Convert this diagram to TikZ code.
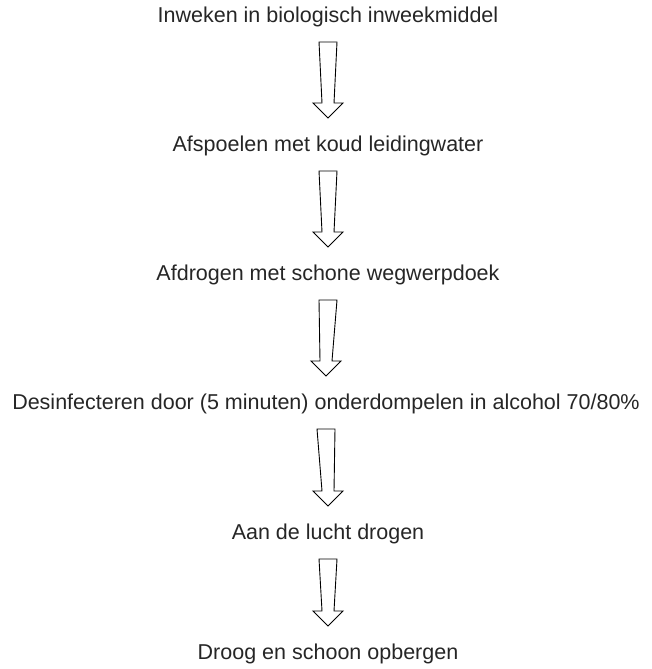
\documentclass[tikz,border=0pt]{standalone}
\usepackage{fontspec}
\setmainfont{Liberation Sans}
\usetikzlibrary{positioning,calc}
\tikzset{x=1pt}
\tikzset{y=-1pt}
\tikzstyle{stap}=[inner sep=2pt,text=black!85,font=\fontsize{21.5}{24}\selectfont]
\tikzstyle{pijl}=[draw=black,line width=.9pt,line join=miter,fill=white]
\newcommand{\holpijl}[2]{
  \draw[pijl] ($(#1)+(-9,25)$) -- ($(#1)+(9,25)$) -- ($(#2)+(6,-43)$)
    -- ($(#2)+(15,-43)$) -- ($(#2)+(0,-28)$) -- ($(#2)+(-15,-43)$)
    -- ($(#2)+(-6,-43)$) -- cycle;
}

\begin{document}
\begin{tikzpicture}
  \useasboundingbox (0,0) rectangle (652,669);
  \draw (328,17) node[stap] (S1) {Inweken in biologisch inweekmiddel};
  \draw (328,146) node[stap] (S2) {Afspoelen met koud leidingwater};
  \draw (328,275) node[stap] (S3) {Afdrogen met schone wegwerpdoek};
  \draw (326,404) node[stap] (S4) {Desinfecteren door (5 minuten) onderdompelen in alcohol 70/80\%};
  \draw (328,534) node[stap] (S5) {Aan de lucht drogen};
  \draw (328,654) node[stap] (S6) {Droog en schoon opbergen};

  \holpijl{S1}{S2}
  \holpijl{S2}{S3}
  \holpijl{S3}{S4}
  \holpijl{S4}{S5}
  \holpijl{S5}{S6}
\end{tikzpicture}
\end{document}
